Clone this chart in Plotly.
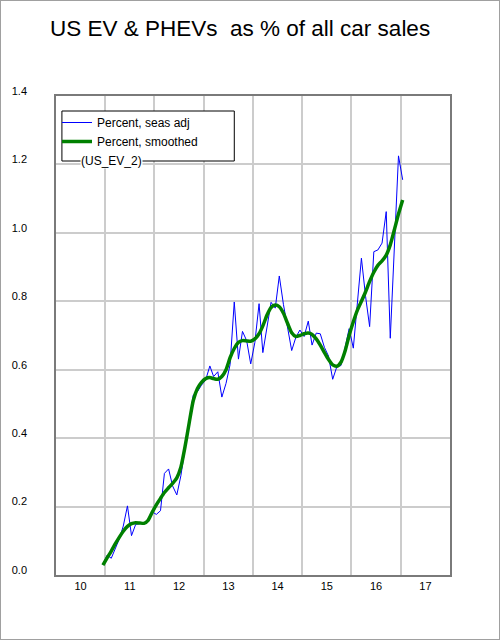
import pandas as pd
import plotly.graph_objects as go

# Monthly observations, Dec 2010 .. Jan 2017
start_month = "2010-12-01"
n_months = 74

seas_adj = [
    0.031, 0.058, 0.049, 0.075, 0.105, 0.143, 0.202, 0.115, 0.148, 0.150,
    0.150, 0.158, 0.185, 0.177, 0.188, 0.297, 0.310, 0.260, 0.234, 0.290,
    0.370, 0.450, 0.526, 0.536, 0.555, 0.570, 0.611, 0.580, 0.594, 0.520,
    0.560, 0.615, 0.798, 0.631, 0.712, 0.685, 0.617, 0.680, 0.793, 0.650,
    0.730, 0.797, 0.780, 0.874, 0.790, 0.726, 0.656, 0.695, 0.716, 0.697,
    0.742, 0.672, 0.707, 0.705, 0.665, 0.640, 0.572, 0.609, 0.612, 0.665,
    0.720, 0.663, 0.800, 0.926, 0.814, 0.726, 0.945, 0.950, 0.970, 1.062,
    0.692, 0.960, 1.225, 1.155,
]

smoothed = [
    0.029, 0.050, 0.070, 0.090, 0.110, 0.128, 0.142, 0.150, 0.153, 0.152,
    0.151, 0.160, 0.183, 0.205, 0.224, 0.241, 0.255, 0.268, 0.284, 0.315,
    0.375, 0.445, 0.510, 0.545, 0.563, 0.574, 0.577, 0.574, 0.572, 0.580,
    0.600, 0.635, 0.662, 0.680, 0.685, 0.684, 0.683, 0.690, 0.705, 0.728,
    0.760, 0.782, 0.789, 0.784, 0.765, 0.735, 0.708, 0.697, 0.700, 0.705,
    0.707, 0.703, 0.690, 0.672, 0.650, 0.630, 0.614, 0.610, 0.622, 0.655,
    0.700, 0.740, 0.775, 0.800, 0.828, 0.858, 0.885, 0.905, 0.918, 0.935,
    0.965, 1.010, 1.055, 1.096,
]

series_names = ["Percent, seas adj", "Percent, smoothed"]
title_text = "US EV & PHEVs\u00a0\u00a0as % of all car sales"
source_label = "(US_EV_2)"

dates = pd.date_range(start_month, periods=n_months, freq="MS") + pd.Timedelta(days=14)

FONT = "Liberation Sans, Arial, sans-serif"

fig = go.Figure()
fig.add_trace(go.Scatter(x=dates, y=seas_adj, mode="lines", name=series_names[0],
                         line=dict(color="#0000ff", width=1)))
fig.add_trace(go.Scatter(x=dates, y=smoothed, mode="lines", name=series_names[1],
                         line=dict(color="#008000", width=3.5, shape="spline",
                                   smoothing=0.6)))

grid = "#cccccc"
axline = "#7a7a7a"

fig.update_layout(
    width=500, height=640,
    margin=dict(l=50, r=50, t=96, b=65),
    paper_bgcolor="white", plot_bgcolor="white",
    font=dict(family=FONT, color="black", size=12),
    title=dict(text=title_text, x=0.1, xref="container", xanchor="left",
               y=1 - 28 / 640, yref="container", yanchor="middle",
               font=dict(family=FONT, size=22.5, color="black")),
    xaxis=dict(type="date", range=["2010-01-01", "2018-01-01"],
               tick0="2010-01-01", dtick="M12", ticklabelmode="period",
               tickformat="%y", showgrid=True, gridcolor=grid, gridwidth=1.5,
               showline=True, mirror=True, linecolor=axline, linewidth=1.5,
               ticks="", zeroline=False, tickfont=dict(size=11),
               ticklabelstandoff=0),
    yaxis=dict(range=[0, 1.4], tick0=0, dtick=0.2, tickformat=".1f",
               showgrid=True, gridcolor=grid, gridwidth=1.5,
               showline=True, mirror=True, linecolor=axline, linewidth=1.5,
               ticks="", zeroline=False, tickfont=dict(size=11),
               ticklabelstandoff=25, ticklabelshift=-5),
    showlegend=True,
    legend=dict(x=(59 - 50 - 8) / 400, y=(575 - 108) / 479,
                xanchor="left", yanchor="top",
                bgcolor="rgba(0,0,0,0)", borderwidth=0,
                font=dict(size=12, family=FONT), itemwidth=30,
                tracegroupgap=0),
    shapes=[
        dict(type="rect", xref="paper", yref="paper",
             x0=(56 - 50) / 400, x1=(231 - 50) / 400,
             y0=(575 - 161) / 479, y1=(575 - 111) / 479,
             line=dict(color="black", width=1), fillcolor="white", layer="above"),
    ],
    annotations=[
        dict(text=source_label, xref="paper", yref="paper",
             x=(106 - 50) / 400, y=(575 - 161) / 479,
             xanchor="center", yanchor="middle", showarrow=False,
             bgcolor="white", borderpad=0, font=dict(size=12, family=FONT)),
    ],
)

page_js = (
    "document.body.style.margin='0';"
    "document.body.style.overflow='hidden';"
    "var fr=document.createElement('div');"
    "fr.style.cssText='position:fixed;left:0;top:0;width:500px;height:640px;"
    "box-sizing:border-box;border:1px solid #a0a0a0;pointer-events:none;z-index:9999;';"
    "document.body.appendChild(fr);"
)

fig.write_html(
    "out.html",
    config={"displayModeBar": False},
    post_script=page_js,
)
